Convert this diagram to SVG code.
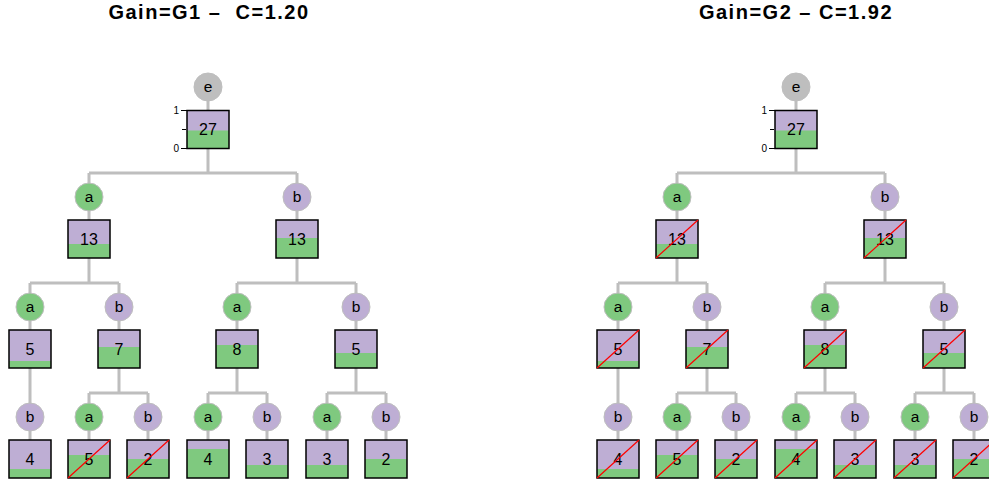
<svg xmlns="http://www.w3.org/2000/svg" width="989" height="485" viewBox="0 0 989 485">
  <style>
    .title { font-family: "Liberation Sans", Arial, sans-serif; font-weight: bold; font-size: 20px; letter-spacing: 1.5px; text-anchor: middle; fill: #000; }
    .edge { fill: none; stroke: #bebebe; stroke-width: 3; }
    .lab { stroke: #bebebe; stroke-width: 1; }
    .ga { fill: #7fc97f; }
    .gb { fill: #beaed4; }
    .ge { fill: #bebebe; }
    .pu { fill: #beaed4; }
    .gr { fill: #7fc97f; }
    .frame { fill: none; stroke: #000; stroke-width: 1.5; }
    .cut { stroke: #ff0000; stroke-width: 1.2; }
    .ltxt { font-family: "Liberation Sans", Arial, sans-serif; font-size: 15.5px; text-anchor: middle; fill: #000; }
    .ntxt { font-family: "Liberation Sans", Arial, sans-serif; font-size: 16px; text-anchor: middle; fill: #000; }
    .axis { stroke: #000; stroke-width: 1; }
    .atxt { font-family: "Liberation Sans", Arial, sans-serif; font-size: 10px; text-anchor: end; fill: #000; }
  </style>

  <!-- left tree: Gain=G1 -->
  <g id="treeG1">
    <text class="title" x="209" y="19" xml:space="preserve">Gain=G1 –  C=1.20</text>
    <g id="g1-edges">
      <path class="edge" d="M208 87V173M89 173H297M89 173V283M297 173V283M30 283H119M237 283H356M30 283V440M119 283V393M237 283V393M356 283V393M89 393H148M208 393H267M327 393H386M89 393V440M148 393V440M208 393V440M267 393V440M327 393V440M386 393V440"/>
    </g>
    <g id="g1-root">
      <circle class="ge lab" cx="208" cy="87" r="14"/>
      <text class="ltxt" x="208" y="92">e</text>
      <rect class="pu" x="187" y="110.5" width="42" height="38"/>
      <rect class="gr" x="187" y="130.5" width="42" height="18"/>
      <rect class="frame" x="187" y="110.5" width="42" height="38"/>
      <text class="ntxt" x="208" y="135">27</text>
      <path class="axis" d="M181 110.5H187M182 129.5H186M181 148.5H187"/>
      <text class="atxt" x="179" y="114">1</text>
      <text class="atxt" x="179" y="152">0</text>
    </g>
    <g id="g1-a">
      <circle class="ga lab" cx="89" cy="197" r="14"/>
      <text class="ltxt" x="89" y="202">a</text>
      <rect class="pu" x="68" y="220" width="42" height="38"/>
      <rect class="gr" x="68" y="244" width="42" height="14"/>
      <rect class="frame" x="68" y="220" width="42" height="38"/>
      <text class="ntxt" x="89" y="244.5">13</text>
    </g>
    <g id="g1-b">
      <circle class="gb lab" cx="297" cy="197" r="14"/>
      <text class="ltxt" x="297" y="202">b</text>
      <rect class="pu" x="276" y="220" width="42" height="38"/>
      <rect class="gr" x="276" y="238" width="42" height="20"/>
      <rect class="frame" x="276" y="220" width="42" height="38"/>
      <text class="ntxt" x="297" y="244.5">13</text>
    </g>
    <g id="g1-aa">
      <circle class="ga lab" cx="30" cy="307" r="14"/>
      <text class="ltxt" x="30" y="312">a</text>
      <rect class="pu" x="9" y="330" width="42" height="38"/>
      <rect class="gr" x="9" y="361" width="42" height="7"/>
      <rect class="frame" x="9" y="330" width="42" height="38"/>
      <text class="ntxt" x="30" y="354.5">5</text>
    </g>
    <g id="g1-ab">
      <circle class="gb lab" cx="119" cy="307" r="14"/>
      <text class="ltxt" x="119" y="312">b</text>
      <rect class="pu" x="98" y="330" width="42" height="38"/>
      <rect class="gr" x="98" y="347" width="42" height="21"/>
      <rect class="frame" x="98" y="330" width="42" height="38"/>
      <text class="ntxt" x="119" y="354.5">7</text>
    </g>
    <g id="g1-ba">
      <circle class="ga lab" cx="237" cy="307" r="14"/>
      <text class="ltxt" x="237" y="312">a</text>
      <rect class="pu" x="216" y="330" width="42" height="38"/>
      <rect class="gr" x="216" y="345" width="42" height="23"/>
      <rect class="frame" x="216" y="330" width="42" height="38"/>
      <text class="ntxt" x="237" y="354.5">8</text>
    </g>
    <g id="g1-bb">
      <circle class="gb lab" cx="356" cy="307" r="14"/>
      <text class="ltxt" x="356" y="312">b</text>
      <rect class="pu" x="335" y="330" width="42" height="38"/>
      <rect class="gr" x="335" y="353" width="42" height="15"/>
      <rect class="frame" x="335" y="330" width="42" height="38"/>
      <text class="ntxt" x="356" y="354.5">5</text>
    </g>
    <g id="g1-aab">
      <circle class="gb lab" cx="30" cy="417" r="14"/>
      <text class="ltxt" x="30" y="422">b</text>
      <rect class="pu" x="9" y="440" width="42" height="38"/>
      <rect class="gr" x="9" y="469" width="42" height="9"/>
      <rect class="frame" x="9" y="440" width="42" height="38"/>
      <text class="ntxt" x="30" y="464.5">4</text>
    </g>
    <g id="g1-aba">
      <circle class="ga lab" cx="89" cy="417" r="14"/>
      <text class="ltxt" x="89" y="422">a</text>
      <rect class="pu" x="68" y="440" width="42" height="38"/>
      <rect class="gr" x="68" y="455" width="42" height="23"/>
      <rect class="frame" x="68" y="440" width="42" height="38"/>
      <text class="ntxt" x="89" y="464.5">5</text>
      <line class="cut" x1="68" y1="478" x2="110" y2="440"/>
    </g>
    <g id="g1-abb">
      <circle class="gb lab" cx="148" cy="417" r="14"/>
      <text class="ltxt" x="148" y="422">b</text>
      <rect class="pu" x="127" y="440" width="42" height="38"/>
      <rect class="gr" x="127" y="459" width="42" height="19"/>
      <rect class="frame" x="127" y="440" width="42" height="38"/>
      <text class="ntxt" x="148" y="464.5">2</text>
      <line class="cut" x1="127" y1="478" x2="169" y2="440"/>
    </g>
    <g id="g1-baa">
      <circle class="ga lab" cx="208" cy="417" r="14"/>
      <text class="ltxt" x="208" y="422">a</text>
      <rect class="pu" x="187" y="440" width="42" height="38"/>
      <rect class="gr" x="187" y="449" width="42" height="29"/>
      <rect class="frame" x="187" y="440" width="42" height="38"/>
      <text class="ntxt" x="208" y="464.5">4</text>
    </g>
    <g id="g1-bab">
      <circle class="gb lab" cx="267" cy="417" r="14"/>
      <text class="ltxt" x="267" y="422">b</text>
      <rect class="pu" x="246" y="440" width="42" height="38"/>
      <rect class="gr" x="246" y="465" width="42" height="13"/>
      <rect class="frame" x="246" y="440" width="42" height="38"/>
      <text class="ntxt" x="267" y="464.5">3</text>
    </g>
    <g id="g1-bba">
      <circle class="ga lab" cx="327" cy="417" r="14"/>
      <text class="ltxt" x="327" y="422">a</text>
      <rect class="pu" x="306" y="440" width="42" height="38"/>
      <rect class="gr" x="306" y="465" width="42" height="13"/>
      <rect class="frame" x="306" y="440" width="42" height="38"/>
      <text class="ntxt" x="327" y="464.5">3</text>
    </g>
    <g id="g1-bbb">
      <circle class="gb lab" cx="386" cy="417" r="14"/>
      <text class="ltxt" x="386" y="422">b</text>
      <rect class="pu" x="365" y="440" width="42" height="38"/>
      <rect class="gr" x="365" y="459" width="42" height="19"/>
      <rect class="frame" x="365" y="440" width="42" height="38"/>
      <text class="ntxt" x="386" y="464.5">2</text>
    </g>
  </g>

  <!-- right tree: Gain=G2, same layout shifted right -->
  <g id="treeG2" transform="translate(588,0)">
    <text class="title" x="208" y="19">Gain=G2 – C=1.92</text>
    <g id="g2-edges">
      <path class="edge" d="M208 87V173M89 173H297M89 173V283M297 173V283M30 283H119M237 283H356M30 283V440M119 283V393M237 283V393M356 283V393M89 393H148M208 393H267M327 393H386M89 393V440M148 393V440M208 393V440M267 393V440M327 393V440M386 393V440"/>
    </g>
    <g id="g2-root">
      <circle class="ge lab" cx="208" cy="87" r="14"/>
      <text class="ltxt" x="208" y="92">e</text>
      <rect class="pu" x="187" y="110.5" width="42" height="38"/>
      <rect class="gr" x="187" y="130.5" width="42" height="18"/>
      <rect class="frame" x="187" y="110.5" width="42" height="38"/>
      <text class="ntxt" x="208" y="135">27</text>
      <path class="axis" d="M181 110.5H187M182 129.5H186M181 148.5H187"/>
      <text class="atxt" x="179" y="114">1</text>
      <text class="atxt" x="179" y="152">0</text>
    </g>
    <g id="g2-a">
      <circle class="ga lab" cx="89" cy="197" r="14"/>
      <text class="ltxt" x="89" y="202">a</text>
      <rect class="pu" x="68" y="220" width="42" height="38"/>
      <rect class="gr" x="68" y="244" width="42" height="14"/>
      <rect class="frame" x="68" y="220" width="42" height="38"/>
      <text class="ntxt" x="89" y="244.5">13</text>
      <line class="cut" x1="68" y1="258" x2="110" y2="220"/>
    </g>
    <g id="g2-b">
      <circle class="gb lab" cx="297" cy="197" r="14"/>
      <text class="ltxt" x="297" y="202">b</text>
      <rect class="pu" x="276" y="220" width="42" height="38"/>
      <rect class="gr" x="276" y="238" width="42" height="20"/>
      <rect class="frame" x="276" y="220" width="42" height="38"/>
      <text class="ntxt" x="297" y="244.5">13</text>
      <line class="cut" x1="276" y1="258" x2="318" y2="220"/>
    </g>
    <g id="g2-aa">
      <circle class="ga lab" cx="30" cy="307" r="14"/>
      <text class="ltxt" x="30" y="312">a</text>
      <rect class="pu" x="9" y="330" width="42" height="38"/>
      <rect class="gr" x="9" y="361" width="42" height="7"/>
      <rect class="frame" x="9" y="330" width="42" height="38"/>
      <text class="ntxt" x="30" y="354.5">5</text>
      <line class="cut" x1="9" y1="368" x2="51" y2="330"/>
    </g>
    <g id="g2-ab">
      <circle class="gb lab" cx="119" cy="307" r="14"/>
      <text class="ltxt" x="119" y="312">b</text>
      <rect class="pu" x="98" y="330" width="42" height="38"/>
      <rect class="gr" x="98" y="347" width="42" height="21"/>
      <rect class="frame" x="98" y="330" width="42" height="38"/>
      <text class="ntxt" x="119" y="354.5">7</text>
      <line class="cut" x1="98" y1="368" x2="140" y2="330"/>
    </g>
    <g id="g2-ba">
      <circle class="ga lab" cx="237" cy="307" r="14"/>
      <text class="ltxt" x="237" y="312">a</text>
      <rect class="pu" x="216" y="330" width="42" height="38"/>
      <rect class="gr" x="216" y="345" width="42" height="23"/>
      <rect class="frame" x="216" y="330" width="42" height="38"/>
      <text class="ntxt" x="237" y="354.5">8</text>
      <line class="cut" x1="216" y1="368" x2="258" y2="330"/>
    </g>
    <g id="g2-bb">
      <circle class="gb lab" cx="356" cy="307" r="14"/>
      <text class="ltxt" x="356" y="312">b</text>
      <rect class="pu" x="335" y="330" width="42" height="38"/>
      <rect class="gr" x="335" y="353" width="42" height="15"/>
      <rect class="frame" x="335" y="330" width="42" height="38"/>
      <text class="ntxt" x="356" y="354.5">5</text>
      <line class="cut" x1="335" y1="368" x2="377" y2="330"/>
    </g>
    <g id="g2-aab">
      <circle class="gb lab" cx="30" cy="417" r="14"/>
      <text class="ltxt" x="30" y="422">b</text>
      <rect class="pu" x="9" y="440" width="42" height="38"/>
      <rect class="gr" x="9" y="469" width="42" height="9"/>
      <rect class="frame" x="9" y="440" width="42" height="38"/>
      <text class="ntxt" x="30" y="464.5">4</text>
      <line class="cut" x1="9" y1="478" x2="51" y2="440"/>
    </g>
    <g id="g2-aba">
      <circle class="ga lab" cx="89" cy="417" r="14"/>
      <text class="ltxt" x="89" y="422">a</text>
      <rect class="pu" x="68" y="440" width="42" height="38"/>
      <rect class="gr" x="68" y="455" width="42" height="23"/>
      <rect class="frame" x="68" y="440" width="42" height="38"/>
      <text class="ntxt" x="89" y="464.5">5</text>
      <line class="cut" x1="68" y1="478" x2="110" y2="440"/>
    </g>
    <g id="g2-abb">
      <circle class="gb lab" cx="148" cy="417" r="14"/>
      <text class="ltxt" x="148" y="422">b</text>
      <rect class="pu" x="127" y="440" width="42" height="38"/>
      <rect class="gr" x="127" y="459" width="42" height="19"/>
      <rect class="frame" x="127" y="440" width="42" height="38"/>
      <text class="ntxt" x="148" y="464.5">2</text>
      <line class="cut" x1="127" y1="478" x2="169" y2="440"/>
    </g>
    <g id="g2-baa">
      <circle class="ga lab" cx="208" cy="417" r="14"/>
      <text class="ltxt" x="208" y="422">a</text>
      <rect class="pu" x="187" y="440" width="42" height="38"/>
      <rect class="gr" x="187" y="449" width="42" height="29"/>
      <rect class="frame" x="187" y="440" width="42" height="38"/>
      <text class="ntxt" x="208" y="464.5">4</text>
      <line class="cut" x1="187" y1="478" x2="229" y2="440"/>
    </g>
    <g id="g2-bab">
      <circle class="gb lab" cx="267" cy="417" r="14"/>
      <text class="ltxt" x="267" y="422">b</text>
      <rect class="pu" x="246" y="440" width="42" height="38"/>
      <rect class="gr" x="246" y="465" width="42" height="13"/>
      <rect class="frame" x="246" y="440" width="42" height="38"/>
      <text class="ntxt" x="267" y="464.5">3</text>
      <line class="cut" x1="246" y1="478" x2="288" y2="440"/>
    </g>
    <g id="g2-bba">
      <circle class="ga lab" cx="327" cy="417" r="14"/>
      <text class="ltxt" x="327" y="422">a</text>
      <rect class="pu" x="306" y="440" width="42" height="38"/>
      <rect class="gr" x="306" y="465" width="42" height="13"/>
      <rect class="frame" x="306" y="440" width="42" height="38"/>
      <text class="ntxt" x="327" y="464.5">3</text>
      <line class="cut" x1="306" y1="478" x2="348" y2="440"/>
    </g>
    <g id="g2-bbb">
      <circle class="gb lab" cx="386" cy="417" r="14"/>
      <text class="ltxt" x="386" y="422">b</text>
      <rect class="pu" x="365" y="440" width="42" height="38"/>
      <rect class="gr" x="365" y="459" width="42" height="19"/>
      <rect class="frame" x="365" y="440" width="42" height="38"/>
      <text class="ntxt" x="386" y="464.5">2</text>
      <line class="cut" x1="365" y1="478" x2="407" y2="440"/>
    </g>
  </g>
</svg>
